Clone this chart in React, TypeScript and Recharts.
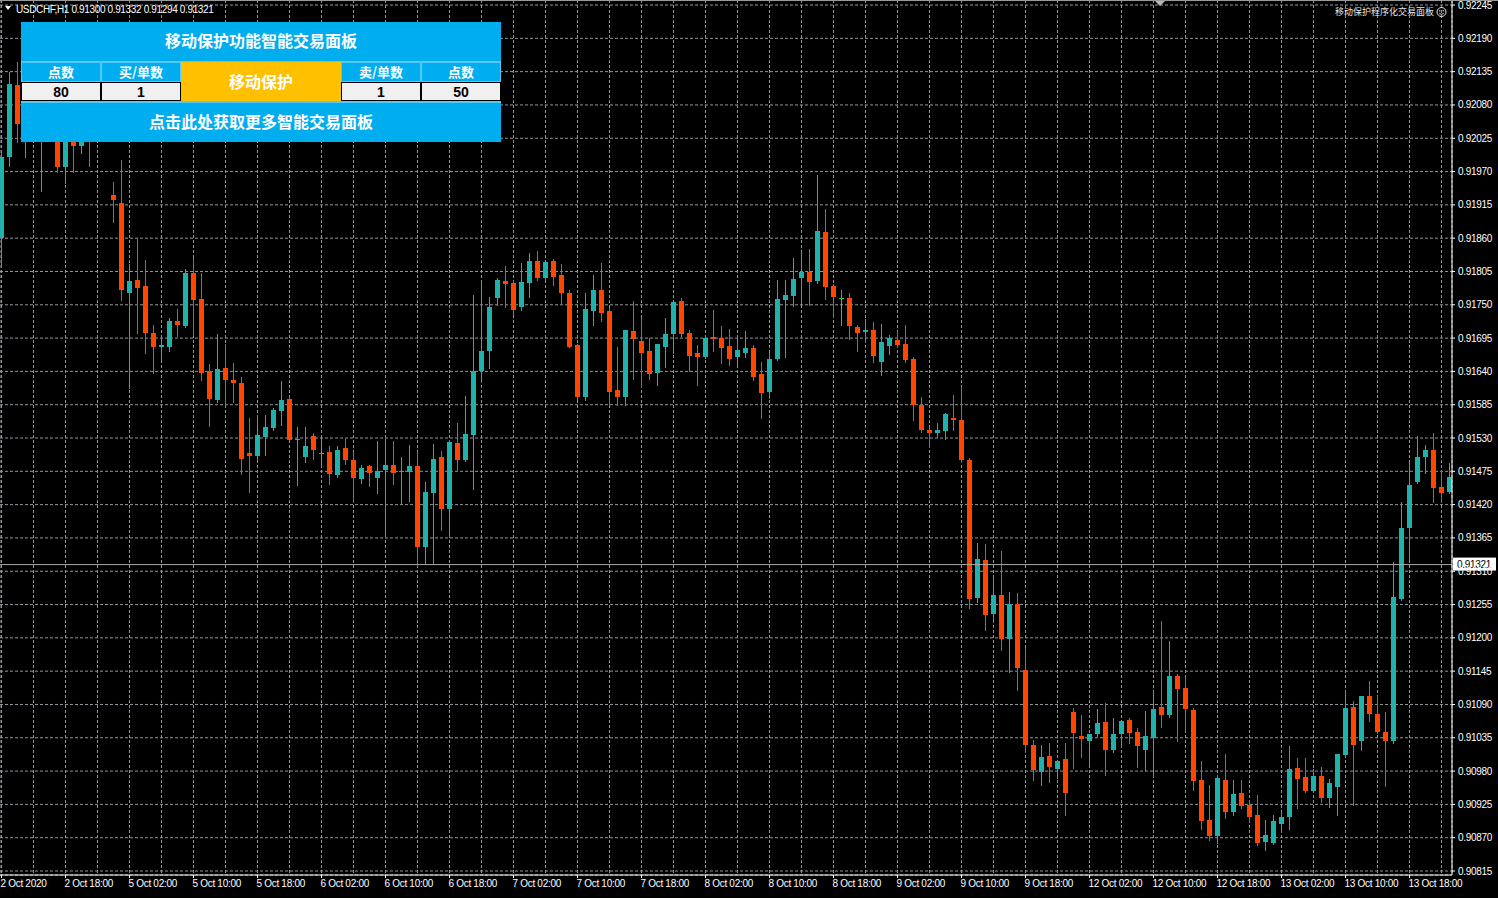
import React from 'react';
import { ComposedChart, Bar, XAxis, YAxis, CartesianGrid, ReferenceLine } from 'recharts';

// USDCHF H1 bars, prices in points (1 point = 0.00001)
const openPts = [
  91860, 91994, 92113, 92030, 92072, 92025, 92055, 92039, 91978, 92039,
  92012, 92047, 92025, 92042, 91931, 91918, 91770, 91791, 91781, 91703,
  91680, 91681, 91724, 91715, 91803, 91759, 91640, 91592, 91646, 91626,
  91621, 91506, 91500, 91531, 91546, 91575, 91594, 91528, 91499, 91533,
  91505, 91507, 91469, 91514, 91494, 91462, 91483, 91464, 91477, 91485,
  91474, 91474, 91484, 91350, 91440, 91498, 91412, 91522, 91494, 91535,
  91641, 91673, 91761, 91789, 91786, 91747, 91786, 91822, 91794, 91822,
  91799, 91769, 91684, 91597, 91740, 91774, 91739, 91609, 91597, 91707,
  91691, 91673, 91637, 91680, 91702, 91757, 91704, 91670, 91664, 91696,
  91695, 91682, 91663, 91671, 91678, 91635, 91606, 91661, 91758, 91765,
  91794, 91804, 91789, 91870, 91781, 91761, 91762, 91713, 91705, 91708,
  91656, 91682, 91692, 91685, 91660, 91584, 91543, 91538, 91542, 91563,
  91560, 91494, 91265, 91329, 91239, 91271, 91198, 91256, 91147, 91023,
  90978, 91005, 90984, 91000, 91078, 91038, 91030, 91041, 91061, 91014,
  91041, 91064, 91044, 91015, 91035, 91085, 91073, 91137, 91117, 91081,
  90965, 90899, 90872, 90965, 90913, 90943, 90924, 90907, 90863, 90862,
  90893, 90904, 90985, 90971, 90947, 90972, 90936, 90953, 91007, 91085,
  91029, 91104, 91074, 91045, 91029, 91264, 91381, 91458, 91499, 91511,
  91449, 91441,
];

const highPts = [
  92006, 92135, 92151, 92088, 92096, 92080, 92072, 92058, 92063, 92055,
  92047, 92068, 92055, 92058, 91953, 91989, 91817, 91860, 91824, 91717,
  91696, 91728, 91743, 91809, 91827, 91803, 91652, 91702, 91686, 91654,
  91631, 91563, 91568, 91568, 91579, 91624, 91598, 91549, 91549, 91539,
  91532, 91517, 91516, 91529, 91507, 91485, 91485, 91525, 91528, 91525,
  91498, 91518, 91507, 91458, 91520, 91509, 91527, 91555, 91599, 91766,
  91788, 91763, 91794, 91814, 91790, 91819, 91835, 91839, 91821, 91825,
  91818, 91774, 91686, 91770, 91799, 91819, 91745, 91680, 91708, 91757,
  91728, 91695, 91685, 91728, 91755, 91761, 91708, 91684, 91695, 91741,
  91715, 91710, 91696, 91707, 91684, 91656, 91670, 91791, 91791, 91827,
  91835, 91842, 91965, 91908, 91785, 91774, 91769, 91717, 91726, 91722,
  91718, 91700, 91707, 91717, 91664, 91597, 91546, 91555, 91571, 91601,
  91616, 91497, 91356, 91355, 91300, 91344, 91276, 91274, 91183, 91031,
  91023, 91027, 90997, 91026, 91084, 91073, 91042, 91082, 91093, 91067,
  91063, 91068, 91051, 91080, 91112, 91228, 91194, 91140, 91133, 91084,
  90997, 90957, 90973, 91008, 90965, 90965, 90932, 90941, 90899, 90907,
  90913, 91022, 91001, 91001, 90983, 90986, 90967, 91008, 91114, 91096,
  91104, 91128, 91104, 91078, 91326, 91425, 91491, 91533, 91518, 91539,
  91477, 91489,
];

const lowPts = [
  91812, 91979, 92019, 91994, 92022, 91938, 92022, 91969, 91951, 91969,
  92001, 91979, 92020, 92022, 91887, 91758, 91613, 91703, 91671, 91637,
  91659, 91673, 91699, 91713, 91700, 91626, 91550, 91590, 91584, 91590,
  91471, 91441, 91493, 91502, 91543, 91552, 91526, 91452, 91491, 91496,
  91484, 91454, 91465, 91487, 91425, 91456, 91450, 91439, 91366, 91454,
  91421, 91426, 91319, 91322, 91322, 91378, 91367, 91477, 91492, 91445,
  91623, 91645, 91750, 91746, 91735, 91741, 91763, 91791, 91791, 91783,
  91753, 91680, 91594, 91593, 91717, 91724, 91584, 91584, 91584, 91627,
  91614, 91627, 91617, 91647, 91671, 91699, 91640, 91617, 91662, 91673,
  91654, 91651, 91653, 91664, 91625, 91563, 91596, 91659, 91663, 91748,
  91751, 91750, 91786, 91760, 91730, 91717, 91693, 91673, 91689, 91656,
  91634, 91668, 91681, 91656, 91559, 91540, 91515, 91532, 91529, 91544,
  91491, 91249, 91260, 91213, 91227, 91180, 91144, 91114, 91011, 90965,
  90957, 90962, 90968, 90907, 90985, 91003, 90988, 91038, 90973, 91011,
  91019, 91027, 90987, 90981, 90971, 91052, 91070, 91030, 91048, 90948,
  90884, 90867, 90861, 90902, 90907, 90919, 90896, 90858, 90850, 90859,
  90880, 90885, 90919, 90945, 90945, 90929, 90921, 90907, 91005, 90924,
  91015, 91062, 91043, 90955, 91027, 91262, 91331, 91456, 91473, 91425,
  91425, 91439,
];

const closePts = [
  91994, 92115, 92048, 92072, 92039, 92055, 92030, 91978, 92042, 92012,
  92035, 92025, 92042, 92027, 91923, 91774, 91790, 91777, 91703, 91680,
  91684, 91724, 91717, 91803, 91758, 91638, 91594, 91644, 91626, 91621,
  91495, 91501, 91535, 91549, 91576, 91593, 91527, 91529, 91516, 91510,
  91505, 91471, 91510, 91494, 91464, 91480, 91472, 91475, 91485, 91473,
  91476, 91484, 91350, 91441, 91496, 91412, 91524, 91493, 91537, 91640,
  91674, 91747, 91791, 91784, 91741, 91788, 91822, 91795, 91821, 91796,
  91769, 91681, 91597, 91743, 91774, 91736, 91606, 91598, 91708, 91693,
  91671, 91635, 91685, 91702, 91755, 91701, 91665, 91664, 91695, 91693,
  91679, 91661, 91675, 91678, 91631, 91604, 91660, 91760, 91766, 91793,
  91804, 91788, 91872, 91780, 91763, 91761, 91715, 91704, 91708, 91665,
  91689, 91695, 91684, 91659, 91584, 91543, 91538, 91543, 91570, 91559,
  91493, 91264, 91330, 91237, 91271, 91198, 91256, 91150, 91023, 90982,
  91003, 90987, 90997, 90944, 91043, 91033, 91042, 91060, 91014, 91041,
  91063, 91043, 91021, 91038, 91082, 91073, 91137, 91116, 91082, 90964,
  90898, 90872, 90969, 90913, 90942, 90922, 90905, 90861, 90874, 90898,
  90904, 90983, 90967, 90947, 90972, 90935, 90960, 91008, 91084, 91023,
  91104, 91074, 91045, 91030, 91267, 91381, 91452, 91499, 91511, 91447,
  91440, 91466,
];

// one label every 8 bars
const timeLabels = [
  '2 Oct 2020', '2 Oct 18:00', '5 Oct 02:00', '5 Oct 10:00', '5 Oct 18:00',
  '6 Oct 02:00', '6 Oct 10:00', '6 Oct 18:00', '7 Oct 02:00', '7 Oct 10:00',
  '7 Oct 18:00', '8 Oct 02:00', '8 Oct 10:00', '8 Oct 18:00', '9 Oct 02:00',
  '9 Oct 10:00', '9 Oct 18:00', '12 Oct 02:00', '12 Oct 10:00', '12 Oct 18:00',
  '13 Oct 02:00', '13 Oct 10:00', '13 Oct 18:00',
];

const priceTicks = [
  92245, 92190, 92135, 92080, 92025, 91970, 91915, 91860, 91805, 91750,
  91695, 91640, 91585, 91530, 91475, 91420, 91365, 91310, 91255, 91200,
  91145, 91090, 91035, 90980, 90925, 90870, 90815,
];

const symbolName = 'USDCHF,H1';
const lastBar = [91300, 91332, 91294, 91321];
const bidPts = 91321;

const rows = openPts.map((o, i) => ({ i, o, h: highPts[i], l: lowPts[i], c: closePts[i] }));
const barTicks = rows.filter((r) => r.i % 4 === 0).map((r) => r.i);

const BULL = '#20B2AA';
const BEAR = '#FF4500';
const DOJI = '#32CD32';
const GRID = '#8f979f';
const PANEL = '#00ADEF';
const PANEL_LINE = '#55C8F3';
const GOLD = '#FFC000';
const FONT = '"Liberation Sans", Arial, sans-serif';
const CJK = '"Noto Sans CJK SC", "Noto Sans", sans-serif';

const fmt = (v: number) => (v / 100000).toFixed(5);

function Candle(props: any) {
  const { x, y, width, height, payload } = props;
  if (!payload || x == null || y == null) return null;
  const { o, h, l, c } = payload;
  const top = Math.min(y, y + height);
  const span = Math.abs(height);
  const k = h > l ? span / (h - l) : 0;
  const py = (v: number) => top + (h - v) * k;
  const cx = Math.floor(x + width / 2) + 0.5;
  const color = c > o ? BULL : c < o ? BEAR : DOJI;
  const yTop = Math.round(py(Math.max(o, c)));
  const yBot = Math.round(py(Math.min(o, c)));
  const left = Math.round(cx - 2.5);
  return (
    <g>
      <line x1={cx} x2={cx} y1={Math.round(top)} y2={Math.round(top + span) + 1} stroke={color} strokeWidth={1} />
      {c === o ? (
        <line x1={left} x2={left + 5} y1={yTop + 0.5} y2={yTop + 0.5} stroke={color} strokeWidth={1} />
      ) : (
        <rect x={left} y={yTop} width={5} height={Math.max(1, yBot - yTop)} fill={color} />
      )}
    </g>
  );
}

function PriceTick(p: any) {
  return (
    <text x={p.x} y={p.y} dy={3.5} fill="#ffffff" fontSize={10} fontFamily={FONT} letterSpacing={-0.3} textAnchor="start">
      {fmt(p.payload.value)}
    </text>
  );
}

function TimeTick(p: any) {
  const v = p.payload.value;
  if (v % 8 !== 0) return <g />;
  return (
    <g>
      <line x1={p.x} x2={p.x} y1={p.y} y2={p.y + 3} stroke="#ffffff" />
      <text x={p.x - 1} y={p.y + 11.5} fill="#ffffff" fontSize={10} fontFamily={FONT} letterSpacing={-0.3} textAnchor="start">
        {timeLabels[v / 8]}
      </text>
    </g>
  );
}

function BidLabel(props: any) {
  const vb = props.viewBox || {};
  const x0 = (vb.x || 0) + (vb.width || 0) + 1;
  const y0 = vb.y || 0;
  return (
    <g>
      <rect x={x0} y={y0 - 7} width={43} height={13} fill="#ffffff" />
      <text x={x0 + 4} y={y0 + 3.5} fill="#000000" fontSize={10} fontFamily={FONT} letterSpacing={-0.3}>
        {fmt(bidPts)}
      </text>
    </g>
  );
}

const cellLabel: React.CSSProperties = {
  position: 'absolute',
  height: 20,
  width: 80,
  boxSizing: 'border-box',
  border: `1px solid ${PANEL_LINE}`,
  display: 'flex',
  alignItems: 'center',
  justifyContent: 'center',
  fontSize: 13,
  color: '#ffffff',
  fontWeight: 700,
  paddingBottom: 1,
};

const cellInput: React.CSSProperties = {
  position: 'absolute',
  top: 60,
  height: 19,
  width: 80,
  boxSizing: 'border-box',
  border: '1px solid #000000',
  background: '#F0F0F0',
  display: 'flex',
  alignItems: 'center',
  justifyContent: 'center',
  fontSize: 14,
  fontFamily: FONT,
  color: '#000000',
  fontWeight: 700,
};

const bigText: React.CSSProperties = {
  position: 'absolute',
  left: 0,
  width: 480,
  height: 39,
  boxSizing: 'border-box',
  paddingBottom: 3,
  display: 'flex',
  alignItems: 'center',
  justifyContent: 'center',
  fontSize: 16,
};

function TradePanel() {
  return (
    <div
      style={{
        position: 'absolute',
        left: 21,
        top: 22,
        width: 480,
        height: 120,
        background: PANEL,
        fontFamily: CJK,
        fontWeight: 700,
        color: '#ffffff',
      }}
    >
      <div style={{ ...bigText, top: 0 }}>移动保护功能智能交易面板</div>
      <div style={{ position: 'absolute', left: 0, top: 39, width: 480, height: 1, background: PANEL_LINE }} />
      <div style={{ ...cellLabel, left: 0, top: 40 }}>点数</div>
      <div style={{ ...cellLabel, left: 80, top: 40 }}>买/单数</div>
      <div style={{ ...cellLabel, left: 320, top: 40 }}>卖/单数</div>
      <div style={{ ...cellLabel, left: 400, top: 40 }}>点数</div>
      <div style={{ ...cellInput, left: 0 }}>80</div>
      <div style={{ ...cellInput, left: 80 }}>1</div>
      <div style={{ ...cellInput, left: 320 }}>1</div>
      <div style={{ ...cellInput, left: 400 }}>50</div>
      <div style={{ ...bigText, left: 160, top: 40, width: 160, background: GOLD, paddingBottom: 2 }}>移动保护</div>
      <div style={{ position: 'absolute', left: 0, top: 79, width: 480, height: 2, background: PANEL_LINE }} />
      <div style={{ ...bigText, top: 81 }}>点击此处获取更多智能交易面板</div>
    </div>
  );
}

export default function App() {
  return (
    <div style={{ position: 'absolute', left: 0, top: 0, width: 1498, height: 898, background: '#000000', overflow: 'hidden' }}>
      <ComposedChart width={1498} height={898} data={rows} margin={{ top: 0, right: 0, bottom: 0, left: 0 }}>
        <CartesianGrid stroke={GRID} strokeDasharray="3 2" />
        <XAxis
          dataKey="i"
          type="number"
          domain={[-0.1875, 181.3125]}
          allowDataOverflow
          ticks={barTicks}
          interval={0}
          height={23}
          tickSize={0}
          tickMargin={0}
          tickLine={false}
          axisLine={{ stroke: '#ffffff' }}
          tick={<TimeTick />}
        />
        <YAxis
          orientation="right"
          type="number"
          domain={[90808.4, 92253.3]}
          allowDataOverflow
          ticks={priceTicks}
          interval={0}
          width={46}
          tickSize={3}
          tickMargin={3}
          tickLine={{ stroke: '#ffffff' }}
          axisLine={{ stroke: '#ffffff' }}
          tick={<PriceTick />}
        />
        <Bar dataKey={(d: any) => [d.l, d.h]} barSize={5} shape={<Candle />} isAnimationActive={false} />
        <ReferenceLine y={bidPts} stroke="#a9a9a9" strokeWidth={1} ifOverflow="visible" label={<BidLabel />} />
      </ComposedChart>

      <svg width={1498} height={30} style={{ position: 'absolute', left: 0, top: 0 }}>
        <line x1={0} x2={1498} y1={0.5} y2={0.5} stroke="#9a9a9a" />
        <polygon points="5,6 11,6 8,10" fill="#ffffff" />
        <text x={16} y={12.5} fill="#ffffff" fontSize={10} fontFamily={FONT} letterSpacing={-0.35}>
          {`${symbolName}  ${lastBar.map(fmt).join(' ')}`}
        </text>
        <polygon points="1155,1 1165,1 1160,6" fill="#b8b8b8" />
        <text x={1335} y={15} fill="#e6e6e6" fontSize={9} fontFamily={CJK}>
          移动保护程序化交易面板
        </text>
        <circle cx={1441.5} cy={12} r={4.5} fill="none" stroke="#e6e6e6" strokeWidth={1} />
        <circle cx={1439.8} cy={10.8} r={0.7} fill="#e6e6e6" />
        <circle cx={1443.2} cy={10.8} r={0.7} fill="#e6e6e6" />
        <path d="M1439.2,13.2 Q1441.5,15.6 1443.8,13.2" fill="none" stroke="#e6e6e6" strokeWidth={0.9} />
      </svg>

      <TradePanel />
    </div>
  );
}
